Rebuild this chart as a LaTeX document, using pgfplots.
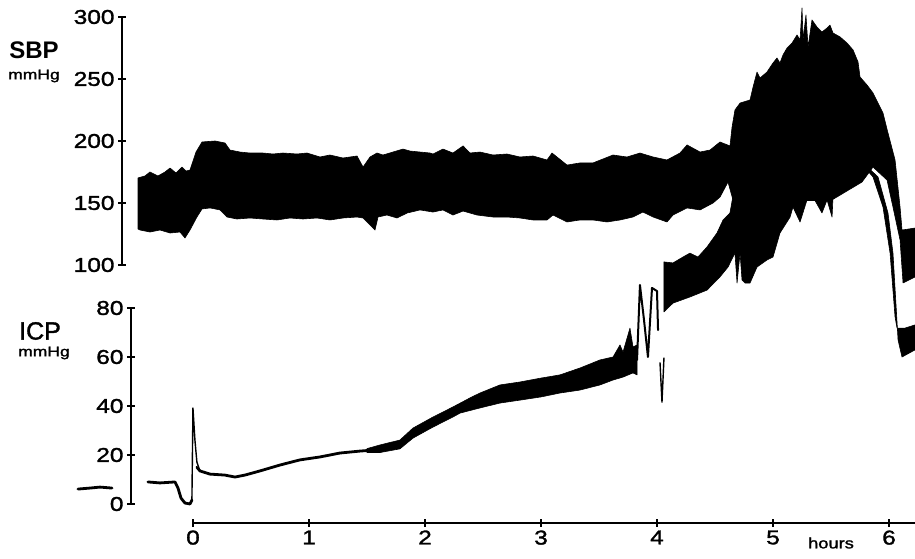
\documentclass[border=0pt]{standalone}
\usepackage{fontspec}
\setmainfont{Liberation Sans}
\newfontfamily\tickfont[FakeStretch=1.22, FakeBold=1.6]{Liberation Sans}
\newfontfamily\medfont[FakeBold=1.5]{Liberation Sans}
\usepackage{graphicx}
\usepackage{pgfplots}
\pgfplotsset{compat=1.18}

\pgfplotsset{
  trace/.style={black, fill=black, line width=0.6pt, line join=round},
  thinline/.style={black, line width=2.8pt, line join=round, line cap=round},
  recaxis/.style={
    scale only axis, clip=false, anchor=south west,
    tick align=outside, major tick length=8pt,
    every tick/.style={black, line width=1.6pt},
    tick label style={font=\tickfont\fontsize{20}{20}\selectfont},
    /pgf/number format/assume math mode=true,
  },
}

\begin{document}
\begin{tikzpicture}
\useasboundingbox (0pt,0pt) rectangle (915pt,559pt);

% SBP (upper trace)
\begin{axis}[recaxis, at={(122pt,294pt)}, width=793pt, height=248pt,
  xmin=-0.612, xmax=6.224, ymin=100, ymax=300,
  axis x line=none, axis y line=left,
  y axis line style={-, line width=1.8pt},
  ytick={100,150,200,250,300}]
\addplot[trace] coordinates {
(-0.474,170.2) (-0.414,171.8) (-0.371,175) (-0.302,171.8) (-0.241,175)
(-0.198,178.2) (-0.147,174.2) (-0.095,179) (-0.06,175.8) (-0.026,176.6)
(0.026,191.1) (0.078,199.2) (0.19,200) (0.276,198.4) (0.319,192.7)
(0.405,191.1) (0.491,190.3) (0.603,190.3) (0.69,189.5) (0.776,190.3)
(0.897,189.5) (0.983,190.3) (1.095,187.1) (1.181,188.7) (1.293,186.3)
(1.414,187.9) (1.466,179) (1.526,187.1) (1.586,190.3) (1.638,188.7)
(1.724,191.1) (1.81,193.5) (1.871,191.9) (1.957,191.1) (2.043,190.3)
(2.069,189.5) (2.155,193.5) (2.241,190.3) (2.328,196) (2.388,190.3)
(2.474,191.1) (2.586,188.7) (2.707,189.5) (2.819,187.1) (2.931,187.9)
(3.052,184.7) (3.095,190.3) (3.224,180.6) (3.336,182.3) (3.448,182.3)
(3.621,188.7) (3.741,187.1) (3.853,190.3) (3.966,187.1) (4.086,184.7)
(4.198,190.3) (4.259,196.8) (4.371,191.1) (4.457,192.7) (4.543,199.2)
(4.629,196)
(4.647,211.3) (4.672,225) (4.716,230.6) (4.802,233.1) (4.828,243.5)
(4.862,255.6) (4.888,250.8) (4.948,255.6) (5.0,262.9) (5.034,266.9)
(5.06,262.9) (5.086,269.4) (5.121,275) (5.164,279) (5.207,285.5)
(5.233,281.5) (5.25,307.3) (5.259,281.5) (5.284,301.6) (5.302,275.8)
(5.336,297.6) (5.379,291.9) (5.422,287.9) (5.466,291.1) (5.491,293.5)
(5.517,287.1) (5.578,283.9) (5.638,279) (5.69,273.4) (5.733,263.7)
(5.75,251.6) (5.81,245.2) (5.862,238.7) (5.948,222.6) (5.991,206.5)
(6.052,184.7) (6.095,146.8) (6.112,128.2) (6.224,129.8)
(6.224,90.3) (6.121,85.5) (6.095,120.2) (6.034,146.8) (5.983,168.5)
(5.862,179) (5.767,166.9) (5.5,152) (5.0,152) (4.655,152.4)
(4.612,166.9) (4.543,154.8) (4.483,150) (4.371,144.4) (4.259,146)
(4.138,140.3) (4.086,134.7) (3.966,138.7) (3.879,142.7) (3.793,138.7)
(3.681,136.3) (3.569,134.7) (3.448,136.3) (3.336,136.3) (3.224,134.7)
(3.103,140.3) (3.052,136.3) (2.931,136.3) (2.819,137.9) (2.707,138.7)
(2.586,138.7) (2.448,140.3) (2.328,143.5) (2.241,140.3) (2.155,144.4)
(2.069,142.7) (1.957,144.4) (1.845,141.9) (1.759,137.9) (1.672,140.3)
(1.595,138.7) (1.569,128.2) (1.466,137.9) (1.414,138.7) (1.293,137.9)
(1.181,136.3) (1.069,137.9) (0.948,137.1) (0.836,137.9) (0.724,136.3)
(0.603,137.1) (0.491,137.9) (0.379,137.1) (0.293,138.7) (0.233,144.4)
(0.147,146) (0.078,145.2) (0.034,138.7) (-0.026,128.2) (-0.069,121.8)
(-0.112,126.6) (-0.198,125.8) (-0.284,128.2) (-0.371,126.6) (-0.457,128.2)
(-0.474,129)
} -- cycle;
\end{axis}

% ICP (lower trace)
\begin{axis}[recaxis, at={(131pt,55pt)}, width=784pt, height=196pt,
  xmin=-0.534, xmax=6.224, ymin=0, ymax=80,
  axis x line=none, axis y line=left,
  y axis line style={-, line width=1.8pt},
  ytick={0,20,40,60,80}]
\addplot[thinline] coordinates {
(-0.991,6.1) (-0.888,6.5) (-0.802,6.9) (-0.698,6.5)};
\addplot[thinline] coordinates {
(-0.388,9.0) (-0.284,8.6) (-0.155,9.0) (-0.129,6.5) (-0.103,2.4)
(-0.069,0.4) (-0.026,0) (-0.009,1.6)};
\addplot[thinline, line width=1.4pt] coordinates {
(-0.009,1.6) (0,39.2) (0.017,26.1) (0.034,17.1) (0.06,13.5)};
\addplot[thinline] coordinates {
(0.034,15) (0.06,13.5) (0.147,12.2) (0.276,11.8) (0.362,11.0) (0.448,11.8)
(0.578,13.5) (0.75,15.9) (0.922,18) (1.095,19.2) (1.267,20.8)
(1.44,21.6) (1.552,22.0)};
\addplot[trace] coordinates {
(1.5,22.6) (1.612,24.1) (1.784,26.1) (1.897,31) (2.069,35.5)
(2.241,39.6) (2.388,43.3) (2.474,45.3) (2.647,48.6) (2.819,49.8)
(3.0,51.4) (3.164,52.7) (3.336,55.5) (3.509,58.8) (3.621,60)
(3.681,64.9) (3.707,62) (3.767,71.8) (3.793,64.1) (3.828,64.9)
(3.828,52.7) (3.793,53.5) (3.707,51.8) (3.621,50.6) (3.509,48.6)
(3.336,46.5) (3.164,45.3) (3.0,43.7) (2.819,42.4) (2.647,41.2)
(2.474,39.2) (2.302,37.1) (2.241,35.5) (2.069,31.4) (1.897,26.9)
(1.784,22.5) (1.612,21) (1.5,21)
} -- cycle;
\addplot[thinline, line width=2pt] coordinates {
(3.828,58.8) (3.853,89.4) (3.888,75.1) (3.922,60) (3.957,88.2)
(4.0,86.9) (4.009,71)};
\addplot[thinline, line width=1.4pt] coordinates {
(4.026,57.6) (4.043,41.6) (4.06,59.6)};
\addplot[trace] coordinates {
(4.06,98.8) (4.138,98.4) (4.224,100.8) (4.284,102.4) (4.353,100.8)
(4.431,104.9) (4.517,110.6) (4.569,115.9) (4.629,118.8) (4.664,128.2)
(5.0,140) (5.5,140) (5.733,140.4) (5.862,133.5) (5.948,121.2)
(6.009,102.4) (6.052,76.3) (6.069,71.8) (6.138,71.8) (6.224,73.1)
(6.224,62.9) (6.112,60) (6.078,66.9) (6.034,102.4) (5.991,118.8)
(5.905,133.5) (5.776,139.2) (5.733,135.1) (5.664,133.5) (5.578,132.2)
(5.517,125.3) (5.509,117.1) (5.466,124.1) (5.422,118.8) (5.345,125.3)
(5.293,124.1) (5.233,115.1) (5.172,121.2) (5.147,117.1) (5.06,110.6)
(5.0,100.8) (4.948,99.6) (4.862,96.7) (4.802,90.2) (4.759,90.2)
(4.733,91.4) (4.716,102.4) (4.69,90.2) (4.672,102.4) (4.612,96.7)
(4.543,92.7) (4.431,87.3) (4.284,84.5) (4.138,82) (4.06,78.4)
} -- cycle;
\end{axis}

% time axis
\begin{axis}[recaxis, at={(193pt,36pt)}, width=722pt, height=20pt,
  xmin=0, xmax=6.224, ymin=0, ymax=1,
  axis y line=none, axis x line=bottom,
  x axis line style={-, line width=1.5pt},
  xtick={0,1,2,3,4,5,6}]
\addplot[draw=none] coordinates {(0,0.5)};
\end{axis}

\node[font=\bfseries\fontsize{24}{24}\selectfont] at (34pt,509pt) {SBP};
\node[font=\medfont\fontsize{14}{14}\selectfont] at (34pt,483pt) {\scalebox{1.25}[1]{mmHg}};
\node[font=\medfont\fontsize{25}{25}\selectfont] at (40pt,228pt) {ICP};
\node[font=\medfont\fontsize{14}{14}\selectfont] at (44pt,206pt) {\scalebox{1.25}[1]{mmHg}};
\node[font=\medfont\fontsize{15}{15}\selectfont] at (831pt,16pt) {\scalebox{1.22}[1]{hours}};
\end{tikzpicture}
\end{document}
